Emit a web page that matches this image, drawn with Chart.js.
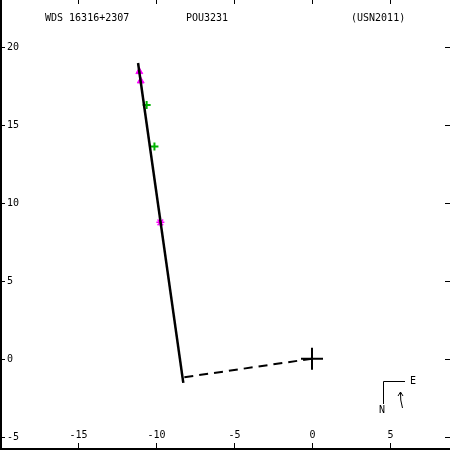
<!DOCTYPE html>
<html>
<head>
<meta charset="utf-8">
<script src="https://cdn.jsdelivr.net/npm/chart.js@4.4.1/dist/chart.umd.min.js"></script>
<style>
html,body{margin:0;padding:0;background:#fff;}
#wrap{width:450px;height:450px;}
</style>
</head>
<body>
<div id="wrap"><canvas id="c" width="450" height="450"></canvas></div>
<script>
// ---- data ----
const titleTexts = ["WDS 16316+2307", "POU3231", "(USN2011)"];
const xTicks = [-15, -10, -5, 0, 5];
const yTicks = [20, 15, 10, 5, 0, -5];
const fitLine = [{x: -8.25, y: -1.55}, {x: -11.15, y: 18.95}];
const residualLine = [{x: 0, y: 0}, {x: -8.27, y: -1.2}];
const triangleObs = [{x: -11.07, y: 18.4}, {x: -10.98, y: 17.8}];
const plusObs = [{x: -10.6, y: 16.26}, {x: -10.1, y: 13.6}];
const starObs = [{x: -9.72, y: 8.74}];
const primary = [{x: 0, y: 0}];
const xRange = [-20, 8.846];
const yRange = [-5.85, 22.99];

const FONT = '10px "DejaVu Sans Mono", monospace';

const decor = {
  id: 'decor',
  afterDraw(chart) {
    const ctx = chart.ctx;
    const xs = chart.scales.x, ys = chart.scales.y;
    const W = chart.width, H = chart.height;
    ctx.save();
    ctx.strokeStyle = '#000';
    ctx.fillStyle = '#000';
    ctx.lineWidth = 2;
    ctx.beginPath();
    ctx.moveTo(1, 0); ctx.lineTo(1, H - 1); ctx.lineTo(W, H - 1);
    ctx.stroke();
    ctx.lineWidth = 1;
    ctx.font = FONT;
    ctx.textAlign = 'center';
    ctx.textBaseline = 'middle';
    xTicks.forEach(v => {
      const px = Math.round(xs.getPixelForValue(v)) + 0.5;
      ctx.beginPath();
      ctx.moveTo(px, 0); ctx.lineTo(px, 4);
      ctx.moveTo(px, H - 7); ctx.lineTo(px, H);
      ctx.stroke();
      ctx.fillText(String(v), px, H - 15);
    });
    ctx.textAlign = 'left';
    yTicks.forEach(v => {
      const py = Math.round(ys.getPixelForValue(v)) + 0.5;
      ctx.beginPath();
      ctx.moveTo(0, py); ctx.lineTo(5, py);
      ctx.moveTo(W - 5, py); ctx.lineTo(W, py);
      ctx.stroke();
      ctx.fillText(String(v), 7, py);
    });
    ctx.fillText(titleTexts[0], 45, 18);
    ctx.fillText(titleTexts[1], 186, 18);
    ctx.fillText(titleTexts[2], 351, 18);
    // compass
    ctx.beginPath();
    ctx.moveTo(383.5, 381.5); ctx.lineTo(405, 381.5);
    ctx.moveTo(383.5, 381.5); ctx.lineTo(383.5, 404);
    ctx.stroke();
    ctx.fillText('E', 410, 381);
    ctx.fillText('N', 379, 410);
    ctx.beginPath();
    ctx.moveTo(402.5, 408); ctx.quadraticCurveTo(400, 400, 400.5, 392);
    ctx.moveTo(398, 396); ctx.lineTo(400.5, 392); ctx.lineTo(403, 396);
    ctx.stroke();
    ctx.restore();
  }
};

new Chart(document.getElementById('c'), {
  type: 'scatter',
  data: {
    datasets: [
      {data: fitLine, showLine: true, borderColor: '#000', borderWidth: 2.5, pointRadius: 0},
      {data: residualLine, showLine: true, borderColor: '#000', borderWidth: 2, borderDash: [9, 6], pointRadius: 0},
      {data: triangleObs, pointStyle: 'triangle', pointRadius: 4, backgroundColor: '#ff00ff', borderColor: '#ff00ff', borderWidth: 1},
      {data: plusObs, pointStyle: 'cross', pointRadius: 4, borderColor: '#00b400', borderWidth: 2},
      {data: starObs, pointStyle: 'star', pointRadius: 4, borderColor: '#ff00ff', borderWidth: 1.5},
      {data: primary, pointStyle: 'cross', pointRadius: 11, borderColor: '#000', borderWidth: 2}
    ]
  },
  options: {
    responsive: false,
    animation: false,
    devicePixelRatio: 1,
    layout: {padding: 0, autoPadding: false},
    plugins: {legend: {display: false}, tooltip: {enabled: false}},
    scales: {
      x: {type: 'linear', min: xRange[0], max: xRange[1], display: false},
      y: {type: 'linear', min: yRange[0], max: yRange[1], display: false}
    }
  },
  plugins: [decor]
});
</script>
</body>
</html>
